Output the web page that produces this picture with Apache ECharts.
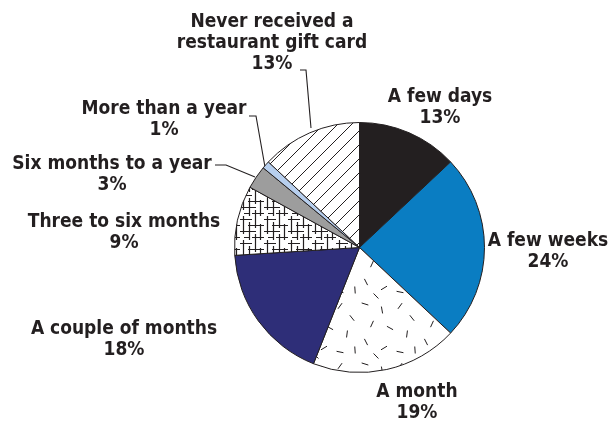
<!DOCTYPE html>
<html><head><meta charset="utf-8">
<script src="https://cdn.jsdelivr.net/npm/echarts@6/dist/echarts.min.js"></script>
<style>html,body{margin:0;padding:0;background:#fff}#c{width:613px;height:424px}</style>
</head><body><div id="c"></div>
<script>
const categories = ["A few days","A few weeks","A month","A couple of months","Three to six months","Six months to a year","More than a year","Never received a\nrestaurant gift card"];
const values = [13,24,19,18,9,3,1,13];

function mk(w,h,fn){const c=document.createElement('canvas');c.width=w;c.height=h;const g=c.getContext('2d');g.fillStyle='#fff';g.fillRect(0,0,w,h);g.strokeStyle='#231f20';g.lineWidth=1;fn(g);return c;}
const hatch = mk(14,14,g=>{g.lineWidth=1;g.beginPath();for(let k=-1;k<=1;k++){g.moveTo(k*14,14);g.lineTo(k*14+14,0);}g.stroke();});
const dashes = mk(60,60,g=>{g.lineWidth=1;const d=[[5,4,0.3],[22,10,1.4],[40,6,2.2],[52,18,0.9],[12,24,2.0],[30,28,0.5],[47,34,1.7],[6,42,1.1],[24,48,2.6],[40,52,0.2],[55,50,1.5],[16,56,0.8]];g.beginPath();d.forEach(([x,y,a])=>{const dx=Math.cos(a)*3.5,dy=Math.sin(a)*3.5;g.moveTo(x-dx,y-dy);g.lineTo(x+dx,y+dy);});g.stroke();});
const maze = mk(24,24,g=>{g.lineWidth=1.2;g.beginPath();
 [[0,3,12],[8,9,24],[0,15,16],[12,21,24],[4,21,9]].forEach(([x1,y,x2])=>{g.moveTo(x1,y+0.5);g.lineTo(x2,y+0.5);});
 [[3,0,18],[9,6,24],[15,0,12],[20,8,24],[15,18,24]].forEach(([x,y1,y2])=>{g.moveTo(x+0.5,y1);g.lineTo(x+0.5,y2);});
 g.stroke();});
const fills = ['#231f20','#0a7dc2',{image:dashes,repeat:'repeat'},'#2e2e78',{image:maze,repeat:'repeat'},'#9d9d9d','#b7cfee',{image:hatch,repeat:'repeat'}];

const lay = [
 {x:440,y:108},{x:548,y:252},{x:417,y:403},{x:124,y:340},{x:124,y:233},{x:112,y:175},{x:164,y:120},{x:272,y:43}
];
const lines = {
 5:[[215,165],[226,165],[255,177]],
 6:[[249,116],[256,116],[265,167]],
 7:[[300,70],[306,70],[311,128]]
};
const chart = echarts.init(document.getElementById('c'),null,{renderer:'canvas'});
chart.setOption({
 animation:false,
 series:[{
  type:'pie', center:[359.5,247.5], radius:125, startAngle:90, clockwise:true,
  data: categories.map((n,i)=>({name:n,value:values[i],itemStyle:{color:fills[i]}})),
  itemStyle:{borderColor:'#231f20',borderWidth:1},
  label:{show:true,position:'outside',formatter:'{b}\n{c}%',fontFamily:'"DejaVu Sans"',fontWeight:'bold condensed',fontSize:19,lineHeight:21,color:'#231f20',align:'center',overflow:'none',width:400},
  labelLine:{show:true,lineStyle:{color:'#231f20',width:1.1}},
  labelLayout:function(p){const i=p.dataIndex;const o={x:lay[i].x,y:lay[i].y,align:'center',verticalAlign:'middle'};o.labelLinePoints=lines[i]||[[0,0],[0,0],[0,0]];return o;},
  emphasis:{disabled:true}
 }]
});
</script></body></html>
